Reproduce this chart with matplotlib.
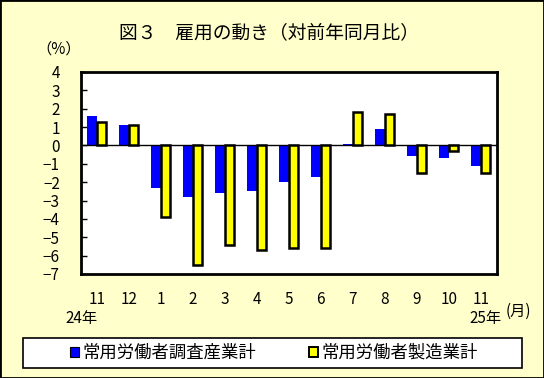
import numpy as np
import matplotlib
matplotlib.use("Agg")
import matplotlib.pyplot as plt
from matplotlib.patches import Rectangle

plt.rcParams["font.family"] = ["Noto Sans CJK JP", "DejaVu Sans"]
plt.rcParams["axes.unicode_minus"] = True

######## DATA ########

months = ["11", "12", "1", "2", "3", "4", "5", "6", "7", "8", "9", "10", "11"]
all_industries = [1.6, 1.1, -2.3, -2.8, -2.6, -2.5, -2.0, -1.7, 0.1, 0.9, -0.6, -0.7, -1.1]
manufacturing = [1.3, 1.1, -3.9, -6.5, -5.4, -5.7, -5.6, -5.6, 1.8, 1.7, -1.5, -0.3, -1.5]
yticks = [4, 3, 2, 1, 0, -1, -2, -3, -4, -5, -6, -7]

label_all = "常用労働者調査産業計"
label_mfg = "常用労働者製造業計"

BG = "#FFFFCC"

######## PLOT ########

fig = plt.figure(figsize=(5.44, 3.78), dpi=100, facecolor=BG)
ax = fig.add_axes([80.7 / 544, 1 - 274 / 378, 416 / 544, 202 / 378])
ax.set_facecolor("white")

x = np.arange(len(months))
w = 0.29
b1 = ax.bar(x - w / 2, all_industries, w, color="#0000FF", edgecolor="none", label=label_all, zorder=2)
b2 = ax.bar(x + w / 2, manufacturing, w, color="#FFFF00", edgecolor="black", linewidth=1.8,
            label=label_mfg, zorder=3)
ax.axhline(0, color="black", linewidth=1.0, zorder=2.5)

ax.set_xlim(-0.5, len(months) - 0.5)
ax.set_ylim(-7, 4)
ax.set_yticks(yticks)
ax.set_yticklabels([str(v).replace("-", "\u2212") for v in yticks], fontsize=11)
ax.tick_params(axis="y", direction="in", length=4, width=1, pad=15)
ax.set_xticks(x)
ax.set_xticklabels(months, fontsize=11)
ax.tick_params(axis="x", length=0, pad=12)
for s in ax.spines.values():
    s.set_linewidth(2)

fig.text(269 / 544, 1 - 33 / 378, "図３　雇用の動き（対前年同月比）", ha="center", va="center", fontsize=13.5)
fig.text(59 / 544, 1 - 49 / 378, "（%）", ha="center", va="center", fontsize=11)
fig.text(82 / 544, 1 - 319 / 378, "24年", ha="center", va="center", fontsize=11)
fig.text(486 / 544, 1 - 319 / 378, "25年", ha="center", va="center", fontsize=11)
fig.text(506 / 544, 1 - 311 / 378, "(月)", ha="left", va="center", fontsize=11)

# legend box
fig.patches.append(Rectangle((23 / 544, 1 - 368 / 378), 499 / 544, 30 / 378,
                             transform=fig.transFigure, facecolor="white",
                             edgecolor="black", linewidth=1.2))
leg = fig.legend(handles=[b1, b2], loc="center", bbox_to_anchor=(274 / 544, 1 - 353 / 378),
                 ncol=2, frameon=False, fontsize=12.5, handlelength=0.55, handleheight=0.55,
                 handletextpad=0.2, columnspacing=3.0)
leg.legend_handles[0].set_edgecolor("black")
leg.legend_handles[0].set_linewidth(0.8)
leg.legend_handles[1].set_linewidth(1.4)

# outer frame
fig.patches.append(Rectangle((0, 0), 1, 1, transform=fig.transFigure, facecolor="none",
                             edgecolor="black", linewidth=2))

fig.savefig("out.png", dpi=100, facecolor=BG)
